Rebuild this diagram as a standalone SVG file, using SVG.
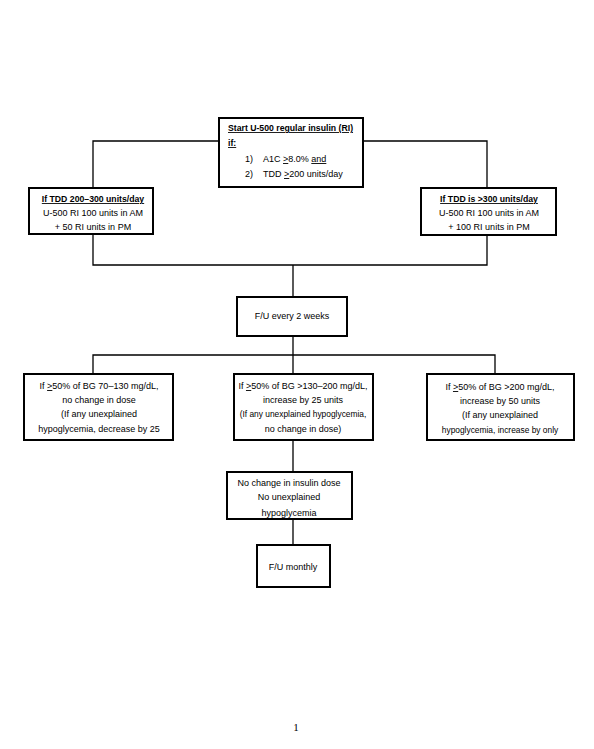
<svg xmlns="http://www.w3.org/2000/svg" width="594" height="749" viewBox="0 0 594 749">
<style>
.box{fill:#fff;stroke:#000;stroke-width:2}
.ln{fill:none;stroke:#000;stroke-width:1.3}
text{font-family:"Liberation Sans",Arial,sans-serif;font-size:9px;fill:#000}
.c{text-anchor:middle}
.b{font-weight:bold;font-size:8.7px}
.u{text-decoration:underline}
.s{font-size:8.4px}
.pg{font-family:"Liberation Serif","Times New Roman",serif;font-size:11px}
</style>
<defs>
<clipPath id="clipNC"><rect x="227" y="472" width="125" height="46"/></clipPath>
</defs>
<rect width="594" height="749" fill="#fff"/>
<g id="connectors">
<path class="ln" d="M93,188 V141 H219"/>
<path class="ln" d="M363,141 H487 V188"/>
<path class="ln" d="M93,234 V265 H487 V235"/>
<path class="ln" d="M293,265 V297"/>
<path class="ln" d="M293,336 V374"/>
<path class="ln" d="M93,374 V355 H495 V374"/>
<path class="ln" d="M293,440 V472"/>
<path class="ln" d="M293,519 V545"/>
</g>
<g id="start">
<rect class="box" x="219" y="118" width="144" height="69"/>
<text x="228" y="131" class="b u">Start U-500 regular insulin (RI)</text>
<text x="228" y="146" class="b u">if:</text>
<text x="245" y="162">1)</text>
<text x="263" y="162">A1C <tspan class="u">&gt;</tspan>8.0% <tspan class="u">and</tspan></text>
<text x="245" y="177">2)</text>
<text x="263" y="177">TDD <tspan class="u">&gt;</tspan>200 units/day</text>
</g>
<g id="tdd200">
<rect class="box" x="29" y="188" width="124" height="46"/>
<text x="93" y="202" class="c b u">If TDD 200–300 units/day</text>
<text x="93" y="216" class="c">U-500 RI 100 units in AM</text>
<text x="93" y="230" class="c">+ 50 RI units in PM</text>
</g>
<g id="tdd300">
<rect class="box" x="421" y="188" width="135" height="47"/>
<text x="489" y="202" class="c b u">If TDD is &gt;300 units/day</text>
<text x="489" y="216" class="c">U-500 RI 100 units in AM</text>
<text x="489" y="230" class="c">+ 100 RI units in PM</text>
</g>
<g id="fu2weeks">
<rect class="box" x="237" y="297" width="110" height="39"/>
<text x="292" y="319" class="c">F/U every 2 weeks</text>
</g>
<g id="bg70">
<rect class="box" x="24" y="374" width="149" height="66"/>
<text x="99" y="389" class="c">If <tspan class="u">&gt;</tspan>50% of BG 70–130 mg/dL,</text>
<text x="99" y="403" class="c">no change in dose</text>
<text x="99" y="417" class="c">(If any unexplained</text>
<text x="99" y="432" class="c">hypoglycemia, decrease by 25</text>
</g>
<g id="bg130">
<rect class="box" x="234" y="374" width="139" height="66"/>
<text x="303" y="389" class="c">If <tspan class="u">&gt;</tspan>50% of BG &gt;130–200 mg/dL,</text>
<text x="303" y="403" class="c">increase by 25 units</text>
<text x="303" y="417" class="c s">(If any unexplained hypoglycemia,</text>
<text x="303" y="432" class="c">no change in dose)</text>
</g>
<g id="bg200">
<rect class="box" x="427" y="374" width="147" height="66"/>
<text x="500" y="390" class="c">If <tspan class="u">&gt;</tspan>50% of BG &gt;200 mg/dL,</text>
<text x="500" y="404" class="c">increase by 50 units</text>
<text x="500" y="418" class="c">(If any unexplained</text>
<text x="500" y="433" class="c s">hypoglycemia, increase by only</text>
</g>
<g id="nochange">
<rect class="box" x="227" y="472" width="125" height="47"/>
<g clip-path="url(#clipNC)">
<text x="289" y="486" class="c">No change in insulin dose</text>
<text x="289" y="500" class="c">No unexplained</text>
<text x="289" y="516" class="c">hypoglycemia</text>
</g>
</g>
<g id="fumonthly">
<rect class="box" x="257" y="545" width="73" height="42"/>
<text x="293" y="570" class="c">F/U monthly</text>
</g>
<text x="296" y="731" class="c pg">1</text>
</svg>
